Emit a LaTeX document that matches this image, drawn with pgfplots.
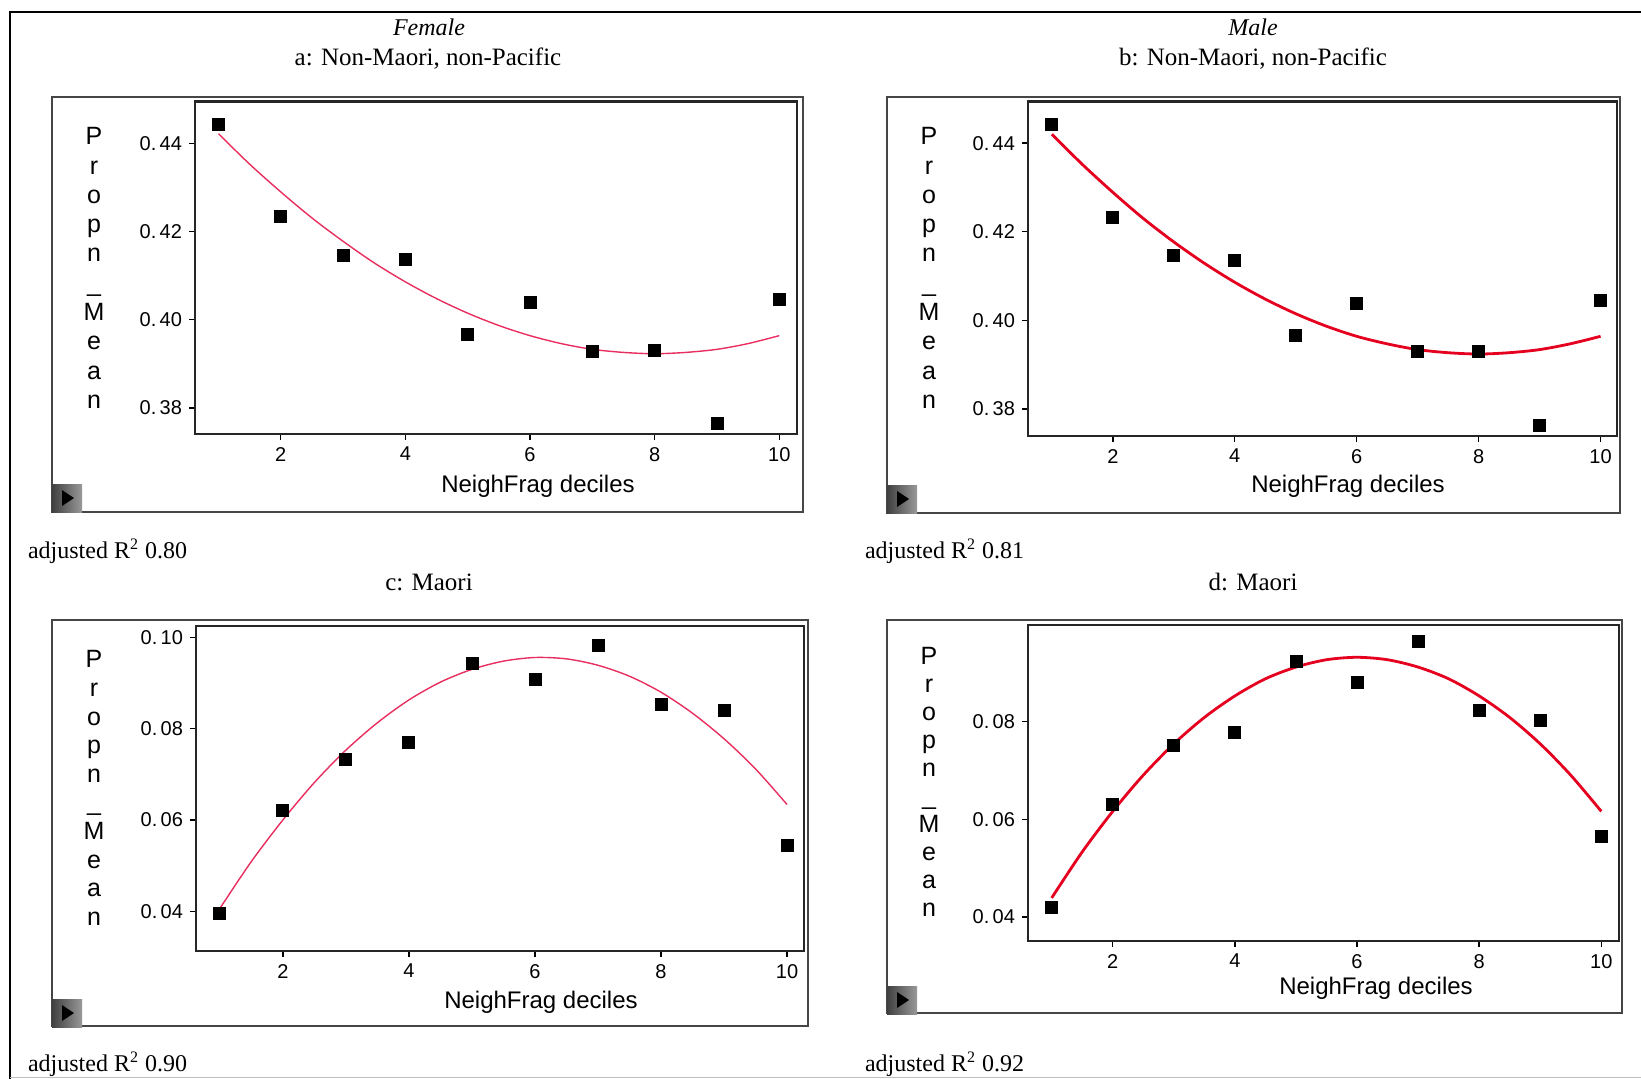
\documentclass[border=0pt]{standalone}
\usepackage{fontspec}
\setmainfont{Liberation Serif}
\newfontfamily\arial{Liberation Sans}
\usepackage{pgfplots}
\pgfplotsset{compat=1.18}
\definecolor{fitpink}{RGB}{232,45,95}
\definecolor{fitred}{RGB}{228,0,30}
\definecolor{framegray}{RGB}{70,70,70}

\pgfplotsset{
  panel/.style={
    scale only axis,
    anchor=north west,
    axis line style={line width=1.1pt, black!85},
    tick pos=left, tick align=outside,
    major tick length=3pt,
    tick style={black, line width=0.7pt},
    xtick={2,4,6,8,10},
    xticklabels={2,4,6,8,10},
    scaled y ticks=false,
    ticklabel style={font=\arial\fontsize{10}{11}\selectfont},
    clip=false,
  },
  dots/.style={only marks, mark=square*, mark size=3pt, black},
}

% stacked y label
\newcommand{\propn}[1]{\arial\fontsize{12.5}{#1}\selectfont}
\newcommand{\btn}[2]{%
  \shade[left color=black!75, right color=black!40] (#1,#2) rectangle ++(15pt,-14pt);
  \fill[black] ($(#1,#2)+(5pt,-3pt)$) -- ++(6pt,-4pt) -- ++(-6pt,-4pt) -- cycle;}
\usetikzlibrary{calc}

\begin{document}
\begin{tikzpicture}
\useasboundingbox (0,0) rectangle (820.5pt,-539.5pt);
% figure border
\draw[black, line width=0.9pt] (820.5pt,-6pt) -- (5pt,-6pt) -- (5pt,-539.5pt);
\draw[black!25, line width=0.8pt] (5pt,-538.8pt) -- (820.5pt,-538.8pt);

% ---------- panel a ----------
\node[font=\itshape\fontsize{12}{14}\selectfont] at (214.5pt,-13.5pt) {Female};
\node[font=\fontsize{12.5}{14}\selectfont] at (214pt,-29.5pt) {a: Non-Maori, non-Pacific};
\draw[framegray, line width=1.1pt] (26pt,-48.5pt) rectangle (401.5pt,-256pt);
\begin{axis}[panel, at={(97.5pt,-50.75pt)}, width=301pt, height=166.25pt,
  xmin=0.624, xmax=10.285, ymin=0.3741, ymax=0.4495,
  ytick={0.38,0.40,0.42,0.44}, yticklabels={0.\,38,0.\,40,0.\,42,0.\,44}]
  \addplot[fitpink, line width=0.7pt, smooth] coordinates {
    (1,0.4422)(1.5,0.4353)(2,0.4290)(2.5,0.4231)(3,0.4178)(3.5,0.4129)(4,0.4086)
    (4.5,0.4048)(5,0.4015)(5.5,0.3987)(6,0.3964)(6.5,0.3946)(7,0.3933)(7.5,0.3926)
    (8,0.3923)(8.5,0.3926)(9,0.3933)(9.5,0.3946)(10,0.3964)};
  \addplot[dots] coordinates {
    (1,0.4443)(2,0.4234)(3,0.4147)(4,0.4138)(5,0.3966)
    (6,0.4039)(7,0.3929)(8,0.3930)(9,0.3764)(10,0.4046)};
\end{axis}
\node[align=center, font=\propn{14.65}] at (47pt,-134pt) {P\\r\\o\\p\\n\\\_\\M\\e\\a\\n};
\node[font=\arial\fontsize{12}{14}\selectfont] at (269pt,-243pt) {NeighFrag deciles};
\btn{26pt}{-242pt}
\node[anchor=west, font=\fontsize{12}{14}\selectfont] at (10.5pt,-275.5pt) {adjusted R\textsuperscript{2} 0.80};

% ---------- panel b ----------
\node[font=\itshape\fontsize{12}{14}\selectfont] at (626.5pt,-13.5pt) {Male};
\node[font=\fontsize{12.5}{14}\selectfont] at (626.5pt,-29.5pt) {b: Non-Maori, non-Pacific};
\draw[framegray, line width=1.1pt] (443.5pt,-48.5pt) rectangle (810pt,-256.5pt);
\begin{axis}[panel, at={(514pt,-50.75pt)}, width=294.5pt, height=167.25pt,
  xmin=0.609, xmax=10.27, ymin=0.3739, ymax=0.4494,
  ytick={0.38,0.40,0.42,0.44}, yticklabels={0.\,38,0.\,40,0.\,42,0.\,44}]
  \addplot[fitred, line width=1.4pt, smooth] coordinates {
    (1,0.4420)(1.5,0.4352)(2,0.4289)(2.5,0.4230)(3,0.4177)(3.5,0.4129)(4,0.4086)
    (4.5,0.4048)(5,0.4015)(5.5,0.3987)(6,0.3964)(6.5,0.3947)(7,0.3934)(7.5,0.3927)
    (8,0.3924)(8.5,0.3927)(9,0.3934)(9.5,0.3947)(10,0.3964)};
  \addplot[dots] coordinates {
    (1,0.4443)(2,0.4232)(3,0.4147)(4,0.4136)(5,0.3966)
    (6,0.4039)(7,0.3929)(8,0.3929)(9,0.3762)(10,0.4046)};
\end{axis}
\node[align=center, font=\propn{14.65}] at (464.5pt,-134pt) {P\\r\\o\\p\\n\\\_\\M\\e\\a\\n};
\node[font=\arial\fontsize{12}{14}\selectfont] at (674pt,-243pt) {NeighFrag deciles};
\btn{443.5pt}{-242.5pt}
\node[anchor=west, font=\fontsize{12}{14}\selectfont] at (429pt,-275.5pt) {adjusted R\textsuperscript{2} 0.81};

% ---------- panel c ----------
\node[font=\fontsize{12.5}{14}\selectfont] at (214.5pt,-291pt) {c: Maori};
\draw[framegray, line width=1.1pt] (26pt,-310pt) rectangle (404pt,-513pt);
\begin{axis}[panel, at={(98pt,-313pt)}, width=304pt, height=162.5pt,
  xmin=0.622, xmax=10.27, ymin=0.0313, ymax=0.1025,
  ytick={0.04,0.06,0.08,0.10}, yticklabels={0.\,04,0.\,06,0.\,08,0.\,10}]
  \addplot[fitpink, line width=0.7pt, smooth] coordinates {
    (1,0.0406)(1.5,0.0509)(2,0.0600)(2.5,0.0682)(3,0.0753)(3.5,0.0813)(4,0.0863)
    (4.5,0.0902)(5,0.0930)(5.5,0.0948)(6,0.0956)(6.5,0.0953)(7,0.0939)(7.5,0.0915)
    (8,0.0880)(8.5,0.0834)(9,0.0778)(9.5,0.0712)(10,0.0634)};
  \addplot[dots] coordinates {
    (1,0.0395)(2,0.0620)(3,0.0733)(4,0.0770)(5,0.0942)
    (6,0.0909)(7,0.0983)(8,0.0854)(9,0.0841)(10,0.0545)};
\end{axis}
\node[align=center, font=\propn{14.3}] at (47pt,-394pt) {P\\r\\o\\p\\n\\\_\\M\\e\\a\\n};
\node[font=\arial\fontsize{12}{14}\selectfont] at (270.5pt,-501pt) {NeighFrag deciles};
\btn{26pt}{-499.5pt}
\node[anchor=west, font=\fontsize{12}{14}\selectfont] at (10.5pt,-532pt) {adjusted R\textsuperscript{2} 0.90};

% ---------- panel d ----------
\node[font=\fontsize{12.5}{14}\selectfont] at (626.5pt,-291pt) {d: Maori};
\draw[framegray, line width=1.1pt] (443.5pt,-310pt) rectangle (811pt,-506.5pt);
\begin{axis}[panel, at={(514pt,-312.5pt)}, width=295.5pt, height=158pt,
  xmin=0.613, xmax=10.29, ymin=0.0351, ymax=0.0997,
  ytick={0.04,0.06,0.08}, yticklabels={0.\,04,0.\,06,0.\,08}]
  \addplot[fitred, line width=1.4pt, smooth] coordinates {
    (1,0.0439)(1.5,0.0533)(2,0.0616)(2.5,0.0690)(3,0.0754)(3.5,0.0808)(4,0.0852)
    (4.5,0.0887)(5,0.0911)(5.5,0.0926)(6,0.0931)(6.5,0.0926)(7,0.0911)(7.5,0.0887)
    (8,0.0852)(8.5,0.0808)(9,0.0754)(9.5,0.0690)(10,0.0616)};
  \addplot[dots] coordinates {
    (1,0.0419)(2,0.0631)(3,0.0750)(4,0.0778)(5,0.0922)
    (6,0.0879)(7,0.0963)(8,0.0823)(9,0.0802)(10,0.0565)};
\end{axis}
\node[align=center, font=\propn{14}] at (464.5pt,-391pt) {P\\r\\o\\p\\n\\\_\\M\\e\\a\\n};
\node[font=\arial\fontsize{12}{14}\selectfont] at (688pt,-494pt) {NeighFrag deciles};
\btn{443.5pt}{-493pt}
\node[anchor=west, font=\fontsize{12}{14}\selectfont] at (429pt,-532pt) {adjusted R\textsuperscript{2} 0.92};
\end{tikzpicture}
\end{document}
